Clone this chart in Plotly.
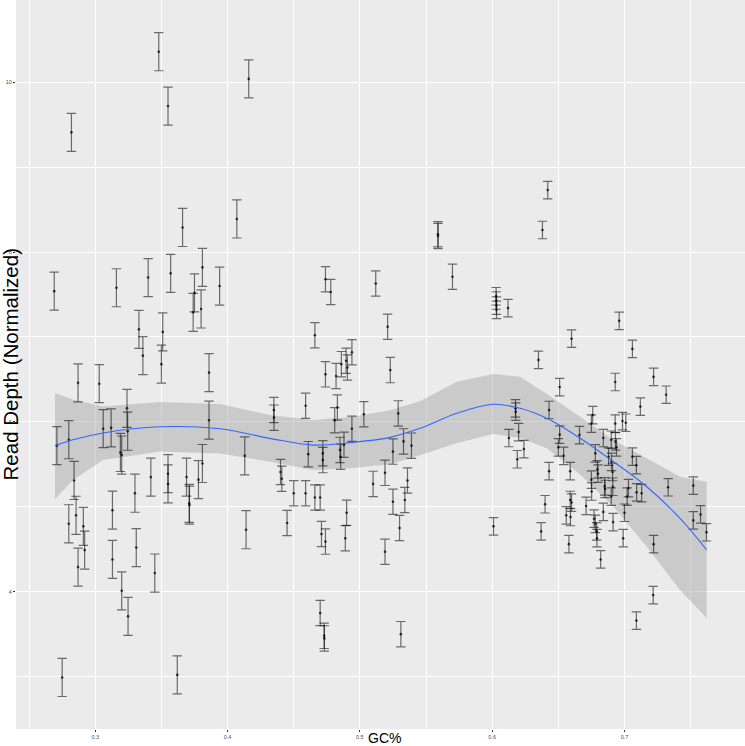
import plotly.graph_objects as go

# ---- data ----
# group A: wide error bars
gc_a = [0.348, 0.355, 0.282, 0.416, 0.366, 0.407, 0.269, 0.316, 0.340, 0.357,
        0.381, 0.375, 0.374, 0.380, 0.394, 0.333, 0.336, 0.351, 0.350, 0.386,
        0.287, 0.303, 0.324, 0.3245, 0.306, 0.312, 0.271, 0.280, 0.319, 0.320,
        0.386, 0.413, 0.284, 0.330, 0.342, 0.355, 0.355, 0.369, 0.378, 0.381,
        0.2855, 0.280, 0.291, 0.292, 0.287, 0.313, 0.313, 0.331, 0.320, 0.3248,
        0.345, 0.371, 0.3712, 0.414, 0.275, 0.362]
depth_a = [10.36, 9.72, 9.41, 10.04, 8.29, 8.39, 7.54, 7.58, 7.70, 7.75,
           7.82, 7.52, 7.29, 7.33, 7.60, 7.09, 6.78, 7.06, 6.68, 6.58,
           6.46, 6.45, 6.16, 5.89, 5.92, 5.93, 5.72, 5.79, 5.64, 5.61,
           6.02, 5.60, 5.31, 5.16, 5.35, 5.39, 5.27, 5.35, 5.32, 5.51,
           4.90, 4.80, 4.77, 4.49, 4.29, 4.96, 4.38, 4.52, 4.01, 3.71,
           4.22, 5.04, 5.02, 4.73, 2.99, 3.02]
err_a = 0.224

# group B: medium error bars
gc_b = [0.435, 0.4351, 0.440, 0.441, 0.445, 0.559, 0.5591, 0.570, 0.474, 0.478,
        0.512, 0.466, 0.521, 0.523, 0.474, 0.482, 0.486, 0.4896, 0.4906, 0.494,
        0.459, 0.483, 0.481, 0.494, 0.503, 0.529, 0.461, 0.472, 0.472, 0.485,
        0.4855, 0.488, 0.525, 0.533, 0.539, 0.510, 0.519, 0.536, 0.450, 0.459,
        0.466, 0.470, 0.471, 0.474, 0.490, 0.489, 0.525, 0.534, 0.530, 0.519,
        0.470, 0.473, 0.4732, 0.531]
depth_b = [6.14, 6.05, 5.41, 5.33, 4.81, 8.21, 8.19, 7.71, 7.68, 7.53,
           7.63, 7.02, 7.12, 6.61, 6.56, 6.54, 6.68, 6.72, 6.64, 6.82,
           6.19, 6.17, 6.02, 5.92, 6.09, 6.10, 5.62, 5.63, 5.55, 5.67,
           5.59, 5.73, 5.65, 5.77, 5.72, 5.27, 5.40, 5.31, 5.16, 5.16,
           5.11, 5.11, 4.68, 4.59, 4.93, 4.63, 5.06, 5.08, 4.75, 4.47,
           3.75, 3.48, 3.45, 3.50]
err_b = 0.149

# group C: narrow error bars
gc_c = [0.603, 0.6031, 0.6032, 0.6033, 0.612, 0.642, 0.638, 0.696, 0.660, 0.706,
        0.635, 0.651, 0.693, 0.722, 0.7315, 0.712, 0.6176, 0.6178, 0.643, 0.676,
        0.675, 0.693, 0.6985, 0.701, 0.6126, 0.620, 0.624, 0.619, 0.651, 0.666,
        0.650, 0.654, 0.643, 0.659, 0.684, 0.690, 0.6932, 0.694, 0.678, 0.6795,
        0.680, 0.688, 0.6902, 0.691, 0.706, 0.709, 0.675, 0.6752, 0.685, 0.6853,
        0.6912, 0.690, 0.703, 0.702, 0.7092, 0.713, 0.733, 0.752, 0.640, 0.659,
        0.660, 0.656, 0.6592, 0.671, 0.677, 0.678, 0.679, 0.6792, 0.684, 0.6914,
        0.700, 0.699, 0.682, 0.658, 0.637, 0.601, 0.722, 0.7217, 0.709, 0.752,
        0.7575, 0.762]
depth_c = [7.48, 7.43, 7.37, 7.32, 7.34, 8.73, 8.26, 7.19, 6.98, 6.86,
           6.73, 6.41, 6.47, 6.53, 6.32, 6.18, 6.16, 6.12, 6.14, 6.08,
           5.98, 5.98, 6.01, 5.99, 5.81, 5.88, 5.68, 5.56, 5.85, 5.845,
           5.70, 5.60, 5.42, 5.42, 5.81, 5.79, 5.77, 5.70, 5.63, 5.44,
           5.39, 5.59, 5.53, 5.41, 5.59, 5.49, 5.32, 5.18, 5.24, 5.21,
           5.236, 5.12, 5.22, 5.12, 5.17, 5.16, 5.23, 5.25, 5.03, 5.08,
           5.05, 4.90, 4.88, 5.01, 4.86, 4.80, 4.71, 4.63, 4.94, 4.82,
           4.93, 4.63, 4.38, 4.56, 4.71, 4.77, 4.56, 3.96, 3.66, 4.84,
           4.91, 4.70]
err_c = 0.103

# smoothing curve (loess) with its confidence band
fit_x = [0.2696, 0.2832, 0.3059, 0.349, 0.3943, 0.432, 0.4646, 0.4948, 0.5228,
         0.5455, 0.5733, 0.601, 0.6211, 0.6413, 0.6665, 0.6917, 0.7169, 0.742, 0.7622]
fit_y = [5.72, 5.79, 5.87, 5.943, 5.919, 5.806, 5.727, 5.759, 5.818,
         5.924, 6.101, 6.207, 6.160, 6.042, 5.807, 5.531, 5.236, 4.864, 4.491]
fit_hi = [6.34, 6.26, 6.18, 6.234, 6.210, 6.081, 6.022, 6.061, 6.136,
          6.242, 6.473, 6.564, 6.532, 6.330, 6.060, 5.786, 5.571, 5.354, 5.295]
fit_lo = [5.09, 5.316, 5.55, 5.651, 5.628, 5.532, 5.433, 5.456, 5.500,
          5.606, 5.751, 5.857, 5.810, 5.690, 5.380, 5.001, 4.530, 4.020, 3.686]

x_ticks = [0.3, 0.4, 0.5, 0.6, 0.7]
y_ticks = [4, 6, 8, 10]

fig = go.Figure()

# confidence band
fig.add_trace(go.Scatter(
    x=fit_x + fit_x[::-1], y=fit_hi + fit_lo[::-1],
    fill="toself", fillcolor="rgba(153,153,153,0.4)",
    line=dict(width=0), mode="lines", hoverinfo="skip", showlegend=False))

bar_color = "rgba(0,0,0,0.55)"
for gx, gy, ge in [(gc_a, depth_a, err_a), (gc_b, depth_b, err_b), (gc_c, depth_c, err_c)]:
    fig.add_trace(go.Scatter(
        x=gx, y=gy, mode="markers",
        marker=dict(size=2.6, color="rgba(0,0,0,0.75)"),
        error_y=dict(type="constant", value=ge, color=bar_color,
                     thickness=1.2, width=4.7),
        showlegend=False))

fig.add_trace(go.Scatter(
    x=fit_x, y=fit_y, mode="lines", line=dict(color="#3366FF", width=1.1, shape="spline"),
    showlegend=False))

tick_font = dict(family="Liberation Sans, Arial, sans-serif", size=5.5, color="#4D4D4D")

fig.update_layout(
    width=745, height=746,
    margin=dict(l=16, r=0, t=0, b=17, autoexpand=False),
    paper_bgcolor="white", plot_bgcolor="#EBEBEB",
    xaxis=dict(range=[0.2401, 0.7911], tickvals=x_ticks,
               ticktext=[str(v) for v in x_ticks], tickfont=tick_font,
               ticks="outside", ticklen=2, tickcolor="#333333", tickwidth=0.6,
               showgrid=True, gridcolor="white", gridwidth=1.1,
               zeroline=False, showline=False, automargin=False,
               minor=dict(tick0=0.25, dtick=0.1, showgrid=True, gridcolor="white",
                          gridwidth=0.55, ticks="")),
    yaxis=dict(range=[2.383, 10.969], tickvals=y_ticks,
               ticktext=[str(v) for v in y_ticks], tickfont=tick_font,
               ticks="outside", ticklen=2, tickcolor="#333333", tickwidth=0.6,
               showgrid=True, gridcolor="white", gridwidth=1.1,
               zeroline=False, showline=False, automargin=False,
               minor=dict(tick0=3, dtick=2, showgrid=True, gridcolor="white",
                          gridwidth=0.55, ticks="")),
    annotations=[
        dict(text="GC%", xref="paper", yref="paper", x=0.506, y=0,
             xanchor="center", yanchor="middle", yshift=-9, showarrow=False,
             font=dict(family="Liberation Sans, Arial", size=14, color="black")),
        dict(text="Read Depth (Normalized)", xref="paper", yref="paper",
             x=-0.0069, y=0.5, xanchor="center", yanchor="middle", textangle=-90,
             showarrow=False,
             font=dict(family="Liberation Sans, Arial", size=20.5, color="black")),
    ],
)

fig.write_html(
    "out.html",
    config={"displayModeBar": False},
    post_script="document.body.style.margin='0';document.body.style.overflow='hidden';",
)
